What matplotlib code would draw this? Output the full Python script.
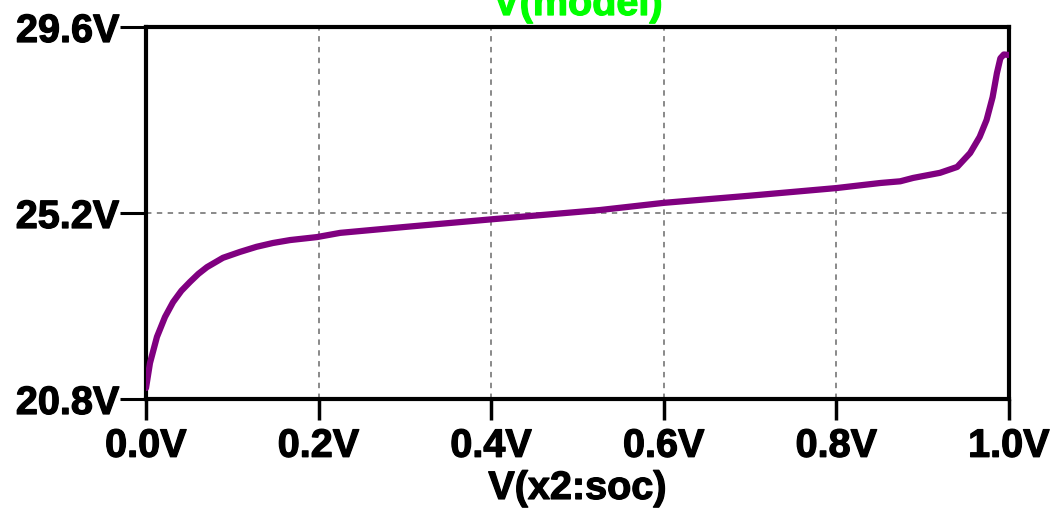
import matplotlib
matplotlib.use("Agg")
import matplotlib.pyplot as plt
import matplotlib.patheffects as pe

# state of charge (x) vs. model voltage (y)
soc = [0.0, 0.0046, 0.0127, 0.022, 0.0313, 0.041, 0.051, 0.0607, 0.0707,
       0.0892, 0.109, 0.128, 0.147, 0.167, 0.198, 0.225, 0.3, 0.4, 0.526,
       0.6, 0.7, 0.8, 0.851, 0.874, 0.889, 0.92, 0.94, 0.955, 0.966, 0.974,
       0.981, 0.986, 0.99, 0.994, 0.999]
v_model = [21.06, 21.65, 22.27, 22.74, 23.09, 23.36, 23.57, 23.76, 23.92,
           24.14, 24.28, 24.40, 24.49, 24.56, 24.63, 24.73, 24.87, 25.05,
           25.27, 25.44, 25.61, 25.79, 25.91, 25.95, 26.03, 26.15, 26.29,
           26.62, 27.00, 27.40, 27.94, 28.51, 28.86, 28.95, 28.94]

x_ticks = [0.0, 0.2, 0.4, 0.6, 0.8, 1.0]
y_ticks = [20.8, 25.2, 29.6]

plt.rcParams['font.family'] = ['Liberation Sans', 'DejaVu Sans']
plt.rcParams['font.weight'] = 'bold'

FS = 28.5
heavy = [pe.withStroke(linewidth=0.9, foreground='black')]

fig = plt.figure(figsize=(10.56, 5.13), dpi=100)
ax = fig.add_axes([146 / 1056, 1 - 399 / 513, 863 / 1056, 372 / 513])

ax.plot(soc, v_model, color='#800080', lw=4.5, solid_capstyle='round',
        solid_joinstyle='round', zorder=3)

ax.set_xlim(0, 1)
ax.set_ylim(20.8, 29.6)
ax.set_xticks(x_ticks)
ax.set_yticks(y_ticks)
ax.set_xticklabels([f"{t:.1f}V" for t in x_ticks])
ax.set_yticklabels([f"{t:.1f}V" for t in y_ticks])

ax.grid(True, color='#808080', lw=1.3, linestyle=(0, (3, 3)))

for s in ax.spines.values():
    s.set_linewidth(3)
    s.set_color('black')

ax.tick_params(axis='x', direction='out', length=15, width=2.5, pad=5,
               labelsize=FS)
ax.tick_params(axis='y', direction='out', length=19, width=2.2, pad=0,
               labelsize=FS)
for lab in ax.get_xticklabels() + ax.get_yticklabels():
    lab.set_fontweight('bold')
    lab.set_path_effects(heavy)

ax.set_xlabel('V(x2:soc)', fontsize=FS, fontweight='bold', labelpad=3,
              path_effects=heavy)
fig.text(578 / 1056, 1 - 15 / 513, 'V(model)', color='#00ff00',
         fontsize=FS, fontweight='bold', ha='center', va='baseline',
         path_effects=[pe.withStroke(linewidth=0.9, foreground='#00ff00')])

fig.savefig('out.png', dpi=100)
